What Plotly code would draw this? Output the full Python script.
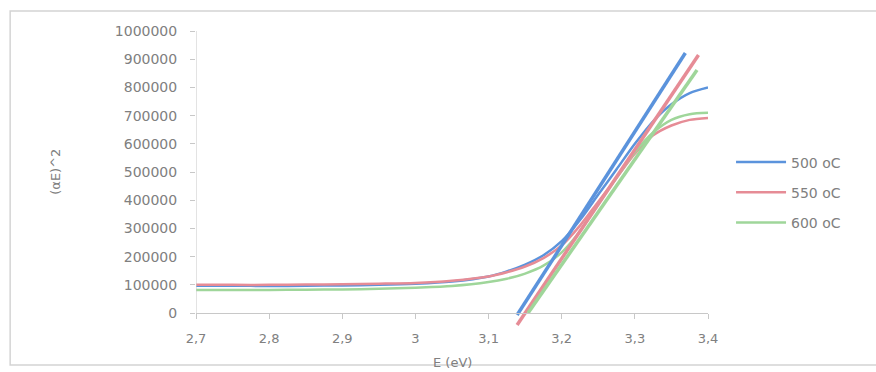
import plotly.graph_objects as go

# Photon energy grid (eV)
energy = [2.7, 2.75, 2.8, 2.85, 2.9, 2.95, 3.0, 3.05, 3.1, 3.125, 3.15, 3.175,
          3.2, 3.225, 3.25, 3.275, 3.3, 3.325, 3.35, 3.375, 3.4]

# (alpha*E)^2 for each annealing temperature
ae2_500 = [97000, 97000, 96000, 97000, 98000, 100000, 104000, 112000, 130000, 148000, 172000, 205000,
           255000, 330000, 420000, 510000, 600000, 680000, 740000, 780000, 800000]
ae2_550 = [100000, 100000, 100000, 101000, 102000, 104000, 107000, 115000, 130000, 145000, 165000, 195000,
           240000, 310000, 395000, 480000, 565000, 630000, 665000, 685000, 692000]
ae2_600 = [82000, 82000, 82000, 83000, 84000, 86000, 90000, 96000, 110000, 122000, 140000, 168000,
           215000, 290000, 385000, 480000, 570000, 640000, 685000, 705000, 710000]

# Linear (Tauc) fits: end points of each extrapolated line
fit_500_e = [3.139, 3.369]
fit_500_y = [-7000, 922000]
fit_550_e = [3.139, 3.387]
fit_550_y = [-42000, 915000]
fit_600_e = [3.154, 3.385]
fit_600_y = [0, 862000]

series_names = ["500 oC", "550 oC", "600 oC"]
series_colors = ["#5b93dc", "#e68c96", "#9fd69a"]

x_ticks = [2.7, 2.8, 2.9, 3.0, 3.1, 3.2, 3.3, 3.4]
x_tick_text = ["2,7", "2,8", "2,9", "3", "3,1", "3,2", "3,3", "3,4"]
y_ticks = [0, 100000, 200000, 300000, 400000, 500000, 600000, 700000, 800000, 900000, 1000000]

Y_MIN, Y_MAX = -60000, 1000000
font_family = "DejaVu Sans"
text_color = "#808080"
axis_color = "#c8c8c8"

fig = go.Figure()

curves = [ae2_500, ae2_550, ae2_600]
fits = [(fit_500_e, fit_500_y), (fit_550_e, fit_550_y), (fit_600_e, fit_600_y)]

for name, color, ys in zip(series_names, series_colors, curves):
    fig.add_trace(go.Scatter(
        x=energy, y=ys, mode="lines", name=name, legendgroup=name,
        line=dict(color=color, width=2.5, shape="spline", smoothing=0.8),
        showlegend=True,
    ))

for name, color, (fe, fy) in zip(series_names, series_colors, fits):
    fig.add_trace(go.Scatter(
        x=fe, y=fy, mode="lines", name=name, legendgroup=name,
        line=dict(color=color, width=3.5), showlegend=False,
    ))

# position of y = 0 inside the plot area, used to put the x axis there
zero_pos = (0 - Y_MIN) / (Y_MAX - Y_MIN)

fig.update_layout(
    width=876, height=372,
    margin=dict(l=196, r=168, t=31, b=42),
    paper_bgcolor="white", plot_bgcolor="white",
    font=dict(family=font_family, size=13, color=text_color),
    showlegend=True,
    legend=dict(
        x=1.045, xanchor="left", y=0.46, yanchor="middle",
        font=dict(family=font_family, size=14, color=text_color),
        bgcolor="rgba(0,0,0,0)", itemwidth=50, tracegroupgap=9,
    ),
    xaxis=dict(
        range=[2.7, 3.4], tickvals=x_ticks, ticktext=x_tick_text,
        anchor="free", position=zero_pos,
        showline=True, linecolor=axis_color, linewidth=1,
        ticks="outside", ticklen=5, tickcolor=axis_color, ticklabelstandoff=8,
        showgrid=False, zeroline=False,
        tickfont=dict(family=font_family, size=13, color=text_color),
    ),
    yaxis=dict(
        range=[Y_MIN, Y_MAX], tickvals=y_ticks, tickformat="d",
        showline=False, ticks="outside", ticklen=5, tickcolor=axis_color,
        ticklabelstandoff=10,
        showgrid=False, zeroline=False,
        tickfont=dict(family=font_family, size=14, color=text_color),
    ),
    shapes=[
        # y axis line from 0 up to the top tick
        dict(type="line", xref="x", yref="y", x0=2.7, x1=2.7, y0=0, y1=Y_MAX,
             line=dict(color=axis_color, width=1)),
        # chart area frame
        dict(type="rect", xref="paper", yref="paper", x0=-0.363, x1=1.42, y0=-0.117, y1=1.067,
             line=dict(color="#d4d4d4", width=1.5), layer="below"),
    ],
    annotations=[
        dict(text="E (eV)", xref="paper", yref="paper", x=0.5, y=-0.11,
             xanchor="center", yanchor="middle", showarrow=False,
             font=dict(family=font_family, size=13, color=text_color)),
        dict(text="(αE)^2", xref="paper", yref="paper", x=-0.275, y=0.53,
             xanchor="center", yanchor="middle", showarrow=False, textangle=-90,
             font=dict(family=font_family, size=13, color=text_color)),
    ],
)

fig.write_html("out.html")
